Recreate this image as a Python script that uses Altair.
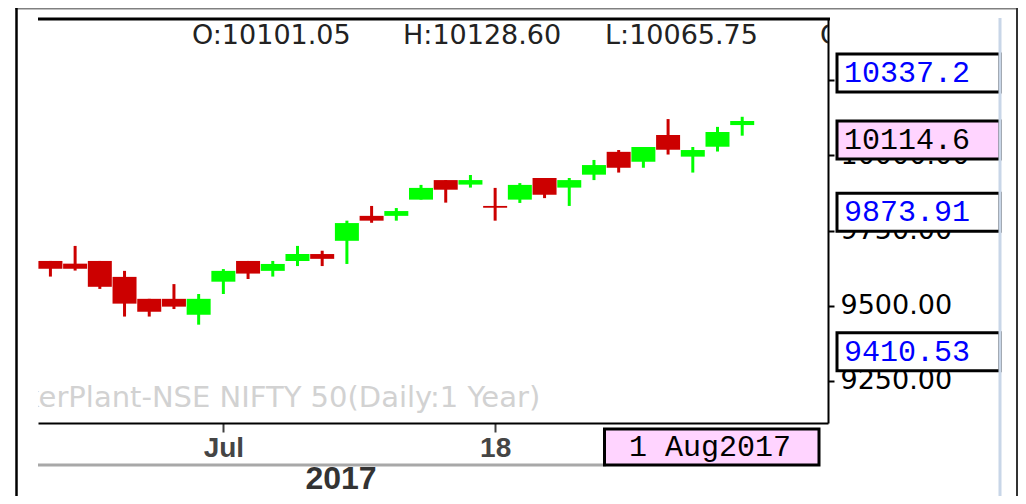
import altair as alt
import pandas as pd

# ---------------- data ----------------
opens = [9649, 9640, 9649, 9596, 9523, 9523, 9470, 9580, 9649, 9616,
         9649, 9672, 9716, 9799, 9799, 9853, 9918, 9903, 9832, 9853,
         9925, 9893, 9936, 10012, 9979, 10068, 9996, 10029, 10101.05]
highs = [9649, 9699, 9649, 9616, 9523, 9572, 9539, 9622, 9649, 9649,
         9699, 9683, 9783, 9832, 9825, 9902, 9918, 9935, 9892, 9908,
         9925, 9925, 9985, 10018, 10028, 10121, 10028, 10095, 10128.60]
lows = [9597, 9617, 9556, 9464, 9464, 9489, 9437, 9539, 9589, 9597,
        9632, 9632, 9639, 9776, 9783, 9853, 9843, 9893, 9783, 9842,
        9858, 9832, 9918, 9943, 9959, 10003, 9943, 10013, 10065.75]
closes = [9623, 9623, 9563, 9507, 9480, 9497, 9523, 9616, 9607, 9639,
          9672, 9656, 9775, 9783, 9815, 9892, 9886, 9918, 9826, 9902,
          9869, 9918, 9968, 9959, 10028, 10019, 10018, 10078, 10114.65]

x_tick_idx = [7, 18]
x_tick_labels = ["Jul", "18"]
y_ticks = [9250, 9500, 9750, 10000, 10250]

header_labels = ["O:10101.05", "H:10128.60", "L:10065.75", "C:10114.65"]
box_values = [10337.2, 10114.6, 9873.91, 9410.53]
box_labels = ["10337.2", "10114.6", "9873.91", "9410.53"]
box_kind = ["mark", "last", "mark", "mark"]
watermark = "TickerPlant-NSE NIFTY 50(Daily:1 Year)"
date_label = "1 Aug2017"
year_label = "2017"

# ---------------- layout ----------------
W, H = 790, 404
RED, GREEN = "#cc0000", "#00ff00"
PINK = "#ffd4ff"

df = pd.DataFrame({"i": list(range(len(opens))), "open": opens, "high": highs,
                   "low": lows, "close": closes})
boxes = pd.DataFrame({"v": box_values, "lab": box_labels, "kind": box_kind})
one = pd.DataFrame({"k": [0]})

xs = alt.Scale(domain=[-0.3, 31.27], nice=False, zero=False)
ys = alt.Scale(domain=[9109.9, 10453.9], nice=False, zero=False)

label_expr = " : ".join(
    [f"datum.value == {v} ? '{t}'" for v, t in zip(x_tick_idx, x_tick_labels)] + ["''"])

x_axis = alt.Axis(values=x_tick_idx, labelExpr=label_expr, title=None, grid=False,
                  domainColor="black", domainWidth=2, tickColor="#404040", tickWidth=2,
                  tickSize=9, labelFont="Liberation Sans", labelFontWeight="bold",
                  labelFontSize=28, labelColor="#454545", labelPadding=2, labelFlush=False)
y_axis = alt.Axis(orient="right", values=y_ticks, format=".2f", title=None, grid=False,
                  domainColor="black", domainWidth=2, tickColor="black", tickWidth=2,
                  tickSize=6, labelFont="DejaVu Sans", labelFontSize=27, labelColor="black",
                  labelPadding=6, labelAlign="left", labelBaseline="middle")

cond_color = alt.condition("datum.close >= datum.open", alt.value(GREEN), alt.value(RED))

wicks = alt.Chart(df).mark_rule(clip=True, strokeWidth=3).encode(
    x=alt.X("i:Q", scale=xs, axis=x_axis),
    y=alt.Y("low:Q", scale=ys, axis=y_axis),
    y2="high:Q",
    color=cond_color,
)
bodies = alt.Chart(df).mark_bar(clip=True, size=24).encode(
    x=alt.X("i:Q", scale=xs, axis=x_axis),
    y=alt.Y("open:Q", scale=ys, axis=y_axis),
    y2="close:Q",
    color=cond_color,
)

layers = []

# frame lines
def hline(x1, x2, y, color, width):
    return alt.Chart(one).mark_rule(color=color, strokeWidth=width).encode(
        x=alt.value(x1), x2=alt.value(x2), y=alt.value(y))

def vline(x, y1, y2, color, width):
    return alt.Chart(one).mark_rule(color=color, strokeWidth=width).encode(
        x=alt.value(x), y=alt.value(y1), y2=alt.value(y2))

layers += [
    hline(-23, 980, -10.5, "#808080", 2),
    vline(-21.5, -11, 477, "black", 2.5),
    vline(979, -11, 477, "#333333", 2),
    hline(0, 792, 0, "black", 3),
    hline(0, 568, 446, "#a8a8a8", 3),
]

# header OHLC text
header_x = [154, 365, 567, 782]
for lab, xp in zip(header_labels, header_x):
    layers.append(alt.Chart(one).mark_text(
        text=lab, align="left", baseline="middle", font="DejaVu Sans", fontSize=27,
        color="#222222", clip=True).encode(x=alt.value(xp), y=alt.value(16.5)))

# watermark
layers.append(alt.Chart(one).mark_text(
    text=watermark, align="left", baseline="middle", font="DejaVu Sans", fontSize=29,
    color="#d2d2d2", clip=True).encode(x=alt.value(-56), y=alt.value(379)))

# price boxes on the right
boxes_rect = alt.Chart(boxes).transform_calculate(v2="datum.v - 126.4").mark_rect(
    stroke="black", strokeWidth=3).encode(
    x=alt.value(799), x2=alt.value(962),
    y=alt.Y("v:Q", scale=ys, axis=y_axis), y2="v2:Q",
    fill=alt.condition("datum.kind == 'last'", alt.value(PINK), alt.value("white")),
)
boxes_text = alt.Chart(boxes).mark_text(
    align="left", baseline="middle", dy=19, font="Liberation Mono", fontSize=30).encode(
    x=alt.value(806),
    y=alt.Y("v:Q", scale=ys, axis=y_axis),
    text="lab:N",
    color=alt.condition("datum.kind == 'last'", alt.value("black"), alt.value("#0000ff")),
)

# light blue separator
blue_line = vline(962, -1, 477, "#c8d6e8", 3)

# date box + year
date_box = alt.Chart(one).mark_rect(fill=PINK, stroke="black", strokeWidth=3).encode(
    x=alt.value(566.5), x2=alt.value(781), y=alt.value(410), y2=alt.value(446))
date_text = alt.Chart(one).mark_text(
    text=date_label, align="center", baseline="middle", font="Liberation Mono",
    fontSize=30, color="black").encode(x=alt.value(672), y=alt.value(428))
year_text = alt.Chart(one).mark_text(
    text=year_label, align="center", baseline="middle", font="Liberation Sans",
    fontWeight="bold", fontSize=32, color="#333333").encode(x=alt.value(303), y=alt.value(459.5))

chart = alt.layer(
    wicks, bodies, *layers, boxes_rect, boxes_text, blue_line, date_box, date_text, year_text
).properties(
    width=W, height=H,
    autosize=alt.AutoSizeParams(type="none"),
    padding={"left": 30, "top": 11, "right": 190, "bottom": 73},
    background="white",
).configure_view(strokeWidth=0)

chart.save("out.html", embed_options={"renderer": "svg", "actions": False})
